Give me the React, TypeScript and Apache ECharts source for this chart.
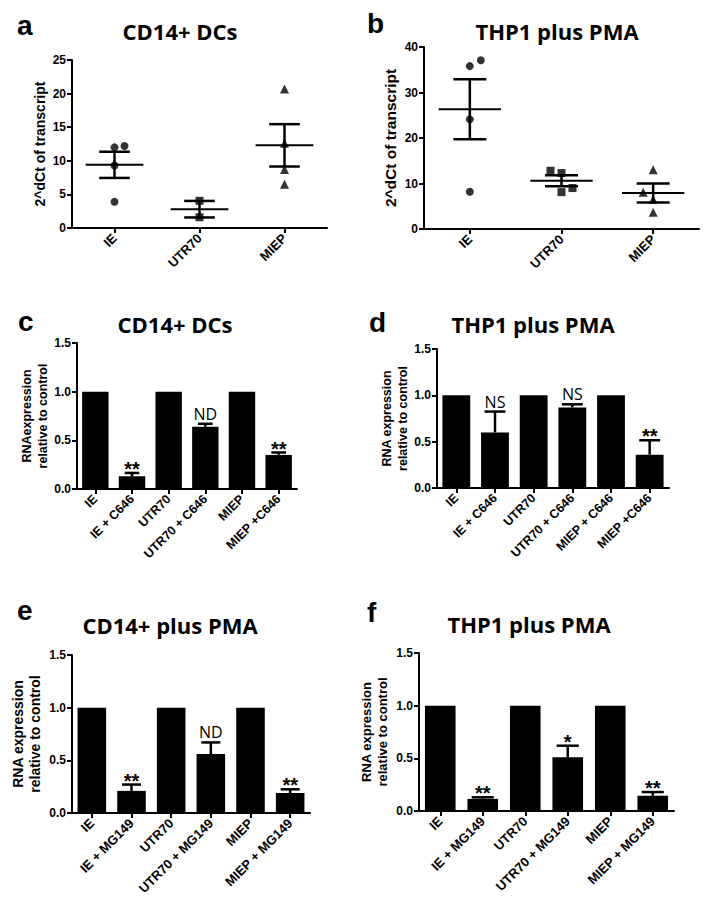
import React, { useEffect, useRef } from "react";
import * as echarts from "echarts";

// ---------- data ----------
const panelLetters = ["a", "b", "c", "d", "e", "f"];
const panelTitles = ["CD14+ DCs", "THP1 plus PMA", "CD14+ DCs", "THP1 plus PMA", "CD14+ plus PMA", "THP1 plus PMA"];

// Panel a – CD14+ DCs, 2^dCt of transcript
const scatterCategories = ["IE", "UTR70", "MIEP"];
const aIE = [12.0, 12.2, 9.3, 3.9];
const aUTR70 = [4.05, 1.6];
const aMIEP = [20.7, 12.6, 8.7, 6.5];
const aMean = [9.4, 2.8, 12.3];
const aSEM = [1.95, 1.23, 3.15];
const aYTicks = [0, 5, 10, 15, 20, 25];

// Panel b – THP1 plus PMA, 2^dCt of transcript
const bIE = [35.8, 37.1, 24.1, 8.2];
const bUTR70 = [12.8, 12.3, 9.0, 8.1];
const bMIEP = [13.0, 8.1, 6.5, 3.7];
const bMean = [26.3, 10.6, 7.9];
const bSEM = [6.6, 1.2, 2.1];
const bYTicks = [0, 10, 20, 30, 40];

// Panel c – CD14+ DCs, C646
const cCategories = ["IE", "IE + C646", "UTR70", "UTR70 + C646", "MIEP", "MIEP +C646"];
const cValues = [1, 0.13, 1, 0.64, 1, 0.35];
const cErrors = [0, 0.035, 0, 0.03, 0, 0.025];
const cMarks = ["", "**", "", "ND", "", "**"];

// Panel d – THP1 plus PMA, C646
const dCategories = ["IE", "IE + C646", "UTR70", "UTR70 + C646", "MIEP + C646", "MIEP +C646"];
const dValues = [1, 0.6, 1, 0.87, 1, 0.36];
const dErrors = [0, 0.225, 0, 0.033, 0, 0.155];
const dMarks = ["", "NS", "", "NS", "", "**"];

// Panel e – CD14+ plus PMA, MG149
const eCategories = ["IE", "IE + MG149", "UTR70", "UTR70 + MG149", "MIEP", "MIEP + MG149"];
const eValues = [1, 0.21, 1, 0.56, 1, 0.19];
const eErrors = [0, 0.06, 0, 0.11, 0, 0.035];
const eMarks = ["", "**", "", "ND", "", "**"];

// Panel f – THP1 plus PMA, MG149
const fCategories = ["IE", "IE + MG149", "UTR70", "UTR70 + MG149", "MIEP", "MIEP + MG149"];
const fValues = [1, 0.115, 1, 0.51, 1, 0.145];
const fErrors = [0, 0.015, 0, 0.11, 0, 0.035];
const fMarks = ["", "**", "", "*", "", "**"];

const relYTicks = [0, 0.5, 1.0, 1.5];

// ---------- option ----------
const AX = "'Liberation Sans', Arial, sans-serif";
const TF = "'Open Sans', 'Liberation Sans', sans-serif";

function buildOption() {
  const grids = [
    { left: 72, top: 60, width: 255, height: 168 },
    { left: 424, top: 47, width: 275, height: 182 },
    { left: 77, top: 343, width: 220, height: 146 },
    { left: 437, top: 349, width: 232, height: 139 },
    { left: 72, top: 655, width: 238, height: 158 },
    { left: 419, top: 653, width: 255, height: 158 },
  ];
  const xAxis: any[] = [];
  const yAxis: any[] = [];
  const series: any[] = [];
  const graphic: any[] = [];

  const axisLine = { show: true, lineStyle: { color: "#000", width: 2 } };
  const axisTick = { show: true, length: 5, lineStyle: { color: "#000", width: 2 } };

  function addAxes(i: number, cats: string[], ticks: number[], name: string, nameGap: number,
    xLabelSize: number, nameSize: number, decimals: number) {
    const max = ticks[ticks.length - 1];
    const interval = ticks[1] - ticks[0];
    xAxis.push({
      type: "category", gridIndex: i, data: cats, boundaryGap: true,
      axisLine, axisTick: { ...axisTick, alignWithLabel: true, interval: 0 },
      axisLabel: { interval: 0, rotate: 45, color: "#000", fontWeight: "bold", fontSize: xLabelSize, fontFamily: AX, margin: 8 },
      splitLine: { show: false },
    });
    yAxis.push({
      type: "value", gridIndex: i, min: 0, max, interval,
      axisLine, axisTick,
      axisLabel: { color: "#000", fontWeight: "bold", fontSize: 12, fontFamily: AX, margin: 6,
        formatter: (v: number) => v.toFixed(decimals) },
      splitLine: { show: false },
      name, nameLocation: "middle", nameRotate: 90, nameGap,
      nameTextStyle: { color: "#000", fontWeight: "bold", fontSize: nameSize, fontFamily: AX, lineHeight: nameSize + 3 },
    });
  }

  function addScatter(i: number, groups: number[][], jitter: number[][], means: number[], sems: number[]) {
    const symbols = ["circle", "rect", "triangle"];
    const sizes = [8, 8, 9];
    groups.forEach((vals, k) => {
      series.push({
        type: "scatter", xAxisIndex: i, yAxisIndex: i, symbol: symbols[k], symbolSize: sizes[k],
        itemStyle: { color: "#000" }, z: 3,
        data: vals.map((v, j) => ({ value: [k, v], symbolOffset: [(jitter[k] && jitter[k][j]) || 0, 0] })),
      });
    });
    series.push({
      type: "custom", xAxisIndex: i, yAxisIndex: i, z: 2, encode: { x: 0, y: 1 },
      data: means.map((m, k) => [k, m, sems[k]]),
      renderItem: (params: any, api: any) => {
        const k = api.value(0), m = api.value(1), s = api.value(2);
        const c = api.coord([k, m]);
        const t = api.coord([k, m + s]);
        const b = api.coord([k, m - s]);
        const bw = api.size([1, 0])[0];
        const st = { stroke: "#000", lineWidth: 2 };
        const st2 = { stroke: "#000", lineWidth: 2.5 };
        return {
          type: "group", children: [
            { type: "line", shape: { x1: c[0] - bw * 0.34, y1: c[1], x2: c[0] + bw * 0.34, y2: c[1] }, style: st },
            { type: "line", shape: { x1: c[0], y1: t[1], x2: c[0], y2: b[1] }, style: st2 },
            { type: "line", shape: { x1: c[0] - bw * 0.18, y1: t[1], x2: c[0] + bw * 0.18, y2: t[1] }, style: st2 },
            { type: "line", shape: { x1: c[0] - bw * 0.18, y1: b[1], x2: c[0] + bw * 0.18, y2: b[1] }, style: st2 },
          ],
        };
      },
    });
  }

  function addBars(i: number, values: number[], errors: number[], marks: string[], capFrac: number) {
    series.push({
      type: "bar", xAxisIndex: i, yAxisIndex: i, data: values, barWidth: "72%",
      itemStyle: { color: "#000" }, z: 2,
    });
    series.push({
      type: "custom", xAxisIndex: i, yAxisIndex: i, z: 3, encode: { x: 0, y: 1 },
      data: values.map((v, j) => [j, v, errors[j]]),
      renderItem: (params: any, api: any) => {
        const j = api.value(0), v = api.value(1), e = api.value(2);
        const base = api.coord([j, v]);
        const top = api.coord([j, v + e]);
        const bw = api.size([1, 0])[0];
        const st = { stroke: "#000", lineWidth: 2.5 };
        const children: any[] = [];
        if (e > 0) {
          children.push({ type: "line", shape: { x1: top[0], y1: base[1], x2: top[0], y2: top[1] }, style: st });
          children.push({ type: "line", shape: { x1: top[0] - bw * capFrac, y1: top[1], x2: top[0] + bw * capFrac, y2: top[1] }, style: st });
        }
        const mk = marks[params.dataIndex];
        if (mk) {
          const star = mk.indexOf("*") >= 0;
          children.push({
            type: "text",
            style: {
              text: mk, x: top[0], y: top[1] - (star ? 4 : 10), align: "center", verticalAlign: "middle",
              fill: "#000", fontFamily: star ? AX : TF, fontWeight: star ? "bold" : "normal", fontSize: star ? 20 : 16,
            },
          });
        }
        return { type: "group", children };
      },
    });
  }

  // Panel a
  addAxes(0, scatterCategories, aYTicks, "2^dCt of transcript", 22, 13, 14, 0);
  addScatter(0, [aIE, aUTR70, aMIEP], [[0, 10, 0, 0], [], []], aMean, aSEM);
  // Panel b
  addAxes(1, scatterCategories, bYTicks, "2^dCt of transcript", 24, 13, 15.5, 0);
  addScatter(1, [bIE, bUTR70, bMIEP], [[0, 11, 0, 0], [-11, 0, 11, 0], [0, -10, 0, 0]], bMean, bSEM);
  // Panel c
  addAxes(2, cCategories, relYTicks, "RNAexpression\nrelative to control", 18, 12.5, 12.5, 1);
  addBars(2, cValues, cErrors, cMarks, 0.2);
  // Panel d
  addAxes(3, dCategories, relYTicks, "RNA expression\nrelative to control", 26, 12.5, 12.5, 1);
  addBars(3, dValues, dErrors, dMarks, 0.27);
  // Panel e
  addAxes(4, eCategories, relYTicks, "RNA expression\nrelative to control", 29, 13, 14, 1);
  addBars(4, eValues, eErrors, eMarks, 0.24);
  // Panel f
  addAxes(5, fCategories, relYTicks, "RNA expression\nrelative to control", 29, 13, 13, 1);
  addBars(5, fValues, fErrors, fMarks, 0.26);

  // letters and titles
  const letterPos = [[17, 25.4], [367, 23.4], [18, 321.4], [369, 322.4], [17, 610.4], [367, 612.4]];
  const titlePos = [[180, 30.6], [557, 30.6], [175, 323.6], [533, 323.6], [170, 624.6], [529, 623.6]];
  panelLetters.forEach((l, i) => {
    graphic.push({
      type: "text", x: letterPos[i][0], y: letterPos[i][1],
      style: { text: l, fill: "#000", fontFamily: AX, fontWeight: "bold", fontSize: 28, align: "left", verticalAlign: "middle" },
    });
  });
  panelTitles.forEach((t, i) => {
    graphic.push({
      type: "text", x: titlePos[i][0], y: titlePos[i][1],
      style: { text: t, fill: "#000", fontFamily: TF, fontWeight: "bold", fontSize: 22, align: "center", verticalAlign: "middle" },
    });
  });

  return {
    animation: false,
    backgroundColor: "#fff",
    grid: grids.map((g) => ({ ...g, containLabel: false })),
    xAxis, yAxis, series, graphic,
  };
}

export default function App() {
  const ref = useRef<HTMLDivElement>(null);
  useEffect(() => {
    document.body.style.margin = "0";
    if (!ref.current) return;
    const chart = echarts.init(ref.current, undefined, { renderer: "svg" });
    chart.setOption(buildOption() as any);
    return () => chart.dispose();
  }, []);
  return <div ref={ref} style={{ width: 708, height: 903 }} />;
}
